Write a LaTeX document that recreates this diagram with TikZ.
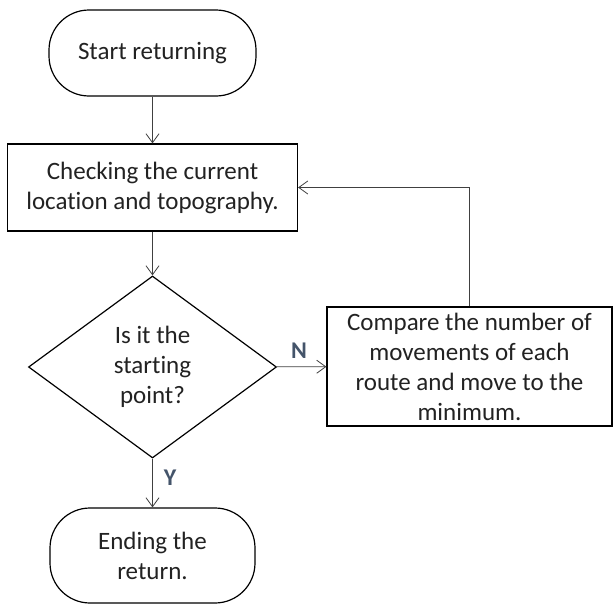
\documentclass[tikz,border=0pt]{standalone}
\usepackage{fontspec}
\setmainfont[Ligatures=NoCommon]{Carlito}
\usetikzlibrary{arrows.meta,shapes.geometric}
\definecolor{inkgray}{HTML}{222222}
\definecolor{labelblue}{HTML}{44546A}
\begin{document}
\begin{tikzpicture}[x=1pt,y=-1pt,
  txt/.style={font=\fontsize{25}{30}\selectfont, text=inkgray, align=center, inner sep=0pt},
  terminal/.style={txt, draw=black, line width=1.2pt, rounded corners=40pt},
  process/.style={txt, draw=black, line width=1.2pt},
  decision/.style={txt, draw=black, line width=1.2pt, diamond, aspect=1.36},
  flow/.style={draw=black!75, line width=0.8pt, -{Straight Barb[length=9pt,width=13pt,line width=0.8pt]}},
  answer/.style={font=\fontsize{24}{26}\selectfont\bfseries, text=labelblue, inner sep=0pt}
]
\useasboundingbox (0,0) rectangle (614,605);

% flowchart nodes
\node[terminal, minimum width=207pt, minimum height=86pt] (start) at (152.5,53) {Start returning};
\node[process, minimum width=290pt, minimum height=87pt] (check) at (152.5,187.5)
  {Checking the current\\location and topography.};
\node[decision, minimum width=248pt, minimum height=182pt] (decide) at (152.5,367)
  {Is it the\\starting\\point?};
\node[process, minimum width=285pt, minimum height=119pt] (compare) at (469.5,366.5)
  {Compare the number of\\movements of each\\route and move to the\\minimum.};
\node[terminal, minimum width=205pt, minimum height=95pt] (finish) at (152.5,555.5)
  {Ending the\\return.};

% connectors
\draw[flow] (start) -- (check);
\draw[flow] (check) -- (decide);
\draw[flow] (decide) -- node[answer, pos=0.45, above=8pt] (no) {N} (compare);
\draw[flow] (compare.north) |- (check.east);
\draw[flow] (decide) -- node[answer, pos=0.4, right=11pt] (yes) {Y} (finish);
\end{tikzpicture}
\end{document}
